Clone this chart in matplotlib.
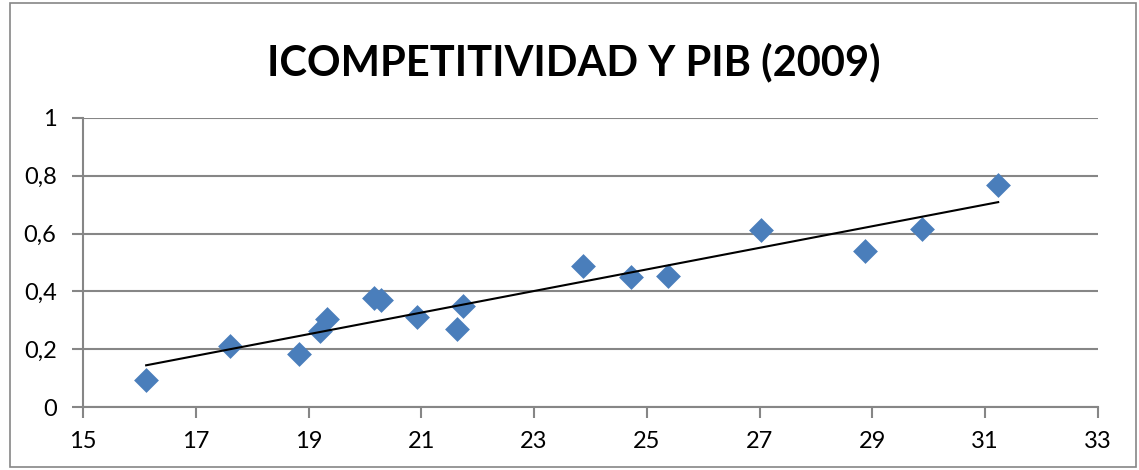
import numpy as np
import matplotlib
matplotlib.use("Agg")
import matplotlib.pyplot as plt
from matplotlib.patches import Rectangle

pib = [16.12, 17.61, 18.83, 19.21, 19.33, 20.16, 20.28, 20.93, 21.63, 21.74,
       23.87, 24.71, 25.37, 27.02, 28.86, 29.88, 31.23]
icomp = [0.095, 0.211, 0.185, 0.262, 0.306, 0.376, 0.370, 0.312, 0.270, 0.349,
         0.489, 0.449, 0.454, 0.614, 0.541, 0.615, 0.768]
x_ticks = [15, 17, 19, 21, 23, 25, 27, 29, 31, 33]
y_ticks = [0, 0.2, 0.4, 0.6, 0.8, 1]
y_labels = ["0", "0,2", "0,4", "0,6", "0,8", "1"]
title = "ICOMPETITIVIDAD Y PIB (2009)"

W, H = 1139, 470
fig = plt.figure(figsize=(W / 100, H / 100), dpi=100)
fig.patches.append(Rectangle((10 / W, 3 / H), 1126 / W, 464 / H, transform=fig.transFigure,
                             fill=False, edgecolor="#868686", linewidth=1.2))

ax = fig.add_axes([83 / W, 1 - 407 / H, (1098 - 83) / W, (407 - 118) / H])
grey = "#868686"
ax.set_xlim(15, 33)
ax.set_ylim(0, 1)
ax.set_xticks(x_ticks)
ax.set_yticks(y_ticks)
ax.set_yticklabels(y_labels)
for s in ["top", "right"]:
    ax.spines[s].set_visible(False)
for s in ["left", "bottom"]:
    ax.spines[s].set_color(grey)
    ax.spines[s].set_linewidth(1.5)
ax.tick_params(direction="out", length=8, width=1.5, color=grey, labelsize=17)
ax.tick_params(axis="x", pad=9)
ax.tick_params(axis="y", pad=11)
ax.yaxis.grid(True, color=grey, linewidth=1.5)
ax.set_axisbelow(True)

fnt = ["Lato", "DejaVu Sans"]
for lab in ax.get_xticklabels() + ax.get_yticklabels():
    lab.set_family(fnt)

ax.scatter(pib, icomp, marker="D", s=160, color="#4a7ebb", zorder=3, linewidths=0)
coef = np.polyfit(pib, icomp, 1)
xs = np.array([min(pib), max(pib)])
ax.plot(xs, np.polyval(coef, xs), color="black", linewidth=1.5, zorder=4)

fig.text(574 / W, 1 - 62 / H, title, ha="center", va="center", fontsize=30,
         fontweight="bold", family=fnt)

fig.savefig("out.png", dpi=100)
